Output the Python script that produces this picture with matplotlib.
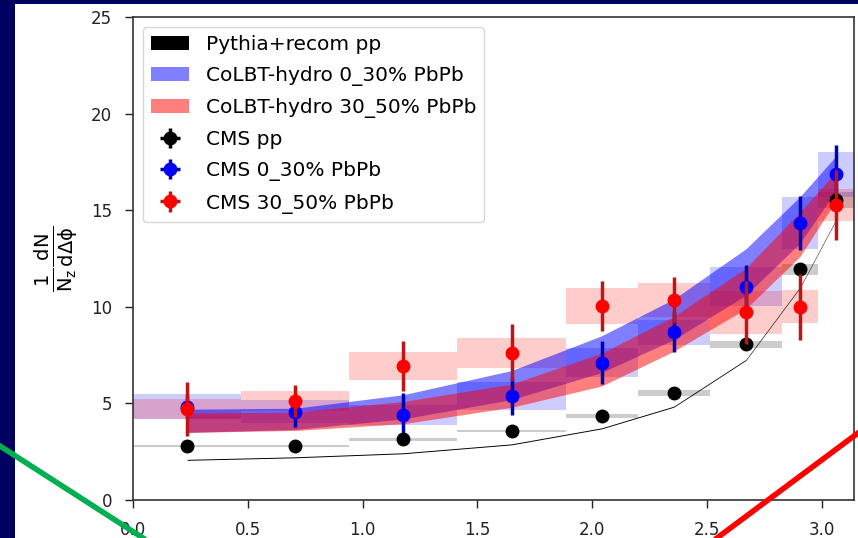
import numpy as np
import matplotlib
matplotlib.use("Agg")
import matplotlib.pyplot as plt
from matplotlib.patches import Rectangle
from matplotlib.lines import Line2D

plt.rcParams["mathtext.default"] = "regular"

# delta-phi bin edges, in units of pi
bin_edges_pi = [0.0, 0.15, 0.3, 0.45, 0.6, 0.7, 0.8, 0.9, 0.95, 1.0]

# CMS pp
cms_pp = [2.80, 2.81, 3.14, 3.57, 4.36, 5.54, 8.06, 11.94, 15.53]
cms_pp_stat = [0.15, 0.15, 0.15, 0.15, 0.15, 0.2, 0.25, 0.3, 0.35]
cms_pp_sys = [0.05, 0.05, 0.08, 0.05, 0.09, 0.14, 0.19, 0.28, 0.40]

# CMS 0-30% PbPb
cms_030 = [4.83, 4.57, 4.40, 5.38, 7.11, 8.68, 11.04, 14.32, 16.86]
cms_030_stat = [0.6, 0.78, 1.15, 1.0, 1.12, 1.03, 1.12, 1.4, 1.5]
cms_030_sys = [0.64, 0.6, 0.5, 0.72, 0.76, 0.66, 1.0, 1.35, 1.17]

# CMS 30-50% PbPb
cms_3050 = [4.71, 5.14, 6.94, 7.63, 10.04, 10.35, 9.71, 10.0, 15.27]
cms_3050_stat = [1.38, 0.82, 1.3, 1.47, 1.3, 1.2, 1.64, 1.7, 1.8]
cms_3050_sys = [0.52, 0.52, 0.73, 0.78, 0.93, 0.86, 1.1, 0.86, 0.82]

# Pythia+recom pp curve
pythia_pp = [2.08, 2.21, 2.42, 2.88, 3.71, 4.83, 7.25, 11.0, 14.5]

# CoLBT-hydro bands (lower / upper)
colbt_030_lo = [3.50, 3.65, 4.20, 5.20, 6.60, 8.30, 10.6, 13.3, 16.0]
colbt_030_hi = [4.70, 4.75, 5.45, 6.70, 8.50, 10.4, 13.0, 15.7, 17.8]
colbt_3050_lo = [3.50, 3.60, 3.95, 4.80, 5.90, 7.70, 9.90, 12.6, 15.5]
colbt_3050_hi = [4.50, 4.55, 5.10, 6.00, 7.60, 9.50, 12.0, 14.9, 17.0]

edges = np.array(bin_edges_pi) * np.pi
centers = 0.5 * (edges[:-1] + edges[1:])
widths = np.diff(edges)

W, H = 858, 538
fig = plt.figure(figsize=(W / 100, H / 100), dpi=100, facecolor="#000060")
# white slide area
fig.add_artist(Rectangle((15 / W, 0), 1, 534 / H, transform=fig.transFigure,
                         facecolor="white", edgecolor="none", zorder=0))
ax = fig.add_axes([133 / W, 38 / H, 721 / W, 483 / H])

# systematic boxes
def sys_boxes(vals, sys, color, alpha):
    vals = np.array(vals)
    sys = np.array(sys)
    ax.bar(centers, 2 * sys, width=widths, bottom=vals - sys, color=color,
           alpha=alpha, linewidth=0, zorder=1)

sys_boxes(cms_pp, cms_pp_sys, "black", 0.2)
sys_boxes(cms_030, cms_030_sys, "blue", 0.2)
sys_boxes(cms_3050, cms_3050_sys, "red", 0.2)

# model curves
pyth = np.array(pythia_pp)
h_pyth = ax.fill_between(centers, pyth - 0.025, pyth + 0.025, color="black",
                         linewidth=0, zorder=2, label="Pythia+recom pp")
h_030 = ax.fill_between(centers, colbt_030_lo, colbt_030_hi, color="blue",
                        alpha=0.5, linewidth=0, zorder=2,
                        label="CoLBT-hydro 0_30% PbPb")
h_3050 = ax.fill_between(centers, colbt_3050_lo, colbt_3050_hi, color="red",
                         alpha=0.5, linewidth=0, zorder=2,
                         label="CoLBT-hydro 30_50% PbPb")

# data points
zeros = np.zeros(len(centers))
e_pp = ax.errorbar(centers, cms_pp, yerr=cms_pp_stat, xerr=zeros, fmt="o",
                   color="black", ecolor="black", ms=9, elinewidth=2.5,
                   capsize=0, zorder=4, label="CMS pp")
e_030 = ax.errorbar(centers, cms_030, yerr=cms_030_stat, xerr=zeros, fmt="o",
                    color="blue", ecolor="#0000b4", ms=9, elinewidth=2.5,
                    capsize=0, zorder=4, label="CMS 0_30% PbPb")
e_3050 = ax.errorbar(centers, cms_3050, yerr=cms_3050_stat, xerr=zeros, fmt="o",
                     color="red", ecolor="#c01515", ms=9, elinewidth=2.5,
                     capsize=0, zorder=5, label="CMS 30_50% PbPb")

ax.set_xlim(0, np.pi)
ax.set_ylim(0, 25)
ax.set_xticks([0.0, 0.5, 1.0, 1.5, 2.0, 2.5, 3.0])
ax.set_yticks([0, 5, 10, 15, 20, 25])
ax.tick_params(labelsize=12, length=6, width=1, colors="#222222", pad=9)
for s in ax.spines.values():
    s.set_color("#333333")
    s.set_linewidth(1.2)

ax.set_ylabel(r"$\frac{1}{N_z}\frac{dN}{d\Delta\phi}$", fontsize=20, labelpad=8)

ax.legend(handles=[h_pyth, h_030, h_3050, e_pp, e_030, e_3050],
          loc="upper left", fontsize=14.5, handlelength=1.9, labelspacing=0.6,
          handletextpad=0.8, borderaxespad=0.5)

# slide annotation strokes
fig.add_artist(Line2D([0, 143 / W], [1 - 446 / H, 0], transform=fig.transFigure,
                      color="#00b050", lw=4, zorder=10))
fig.add_artist(Line2D([717 / W, 1], [0, 1 - 433 / H], transform=fig.transFigure,
                      color="#ff0000", lw=4, zorder=10))

fig.savefig("out.png", dpi=100, facecolor=fig.get_facecolor())
